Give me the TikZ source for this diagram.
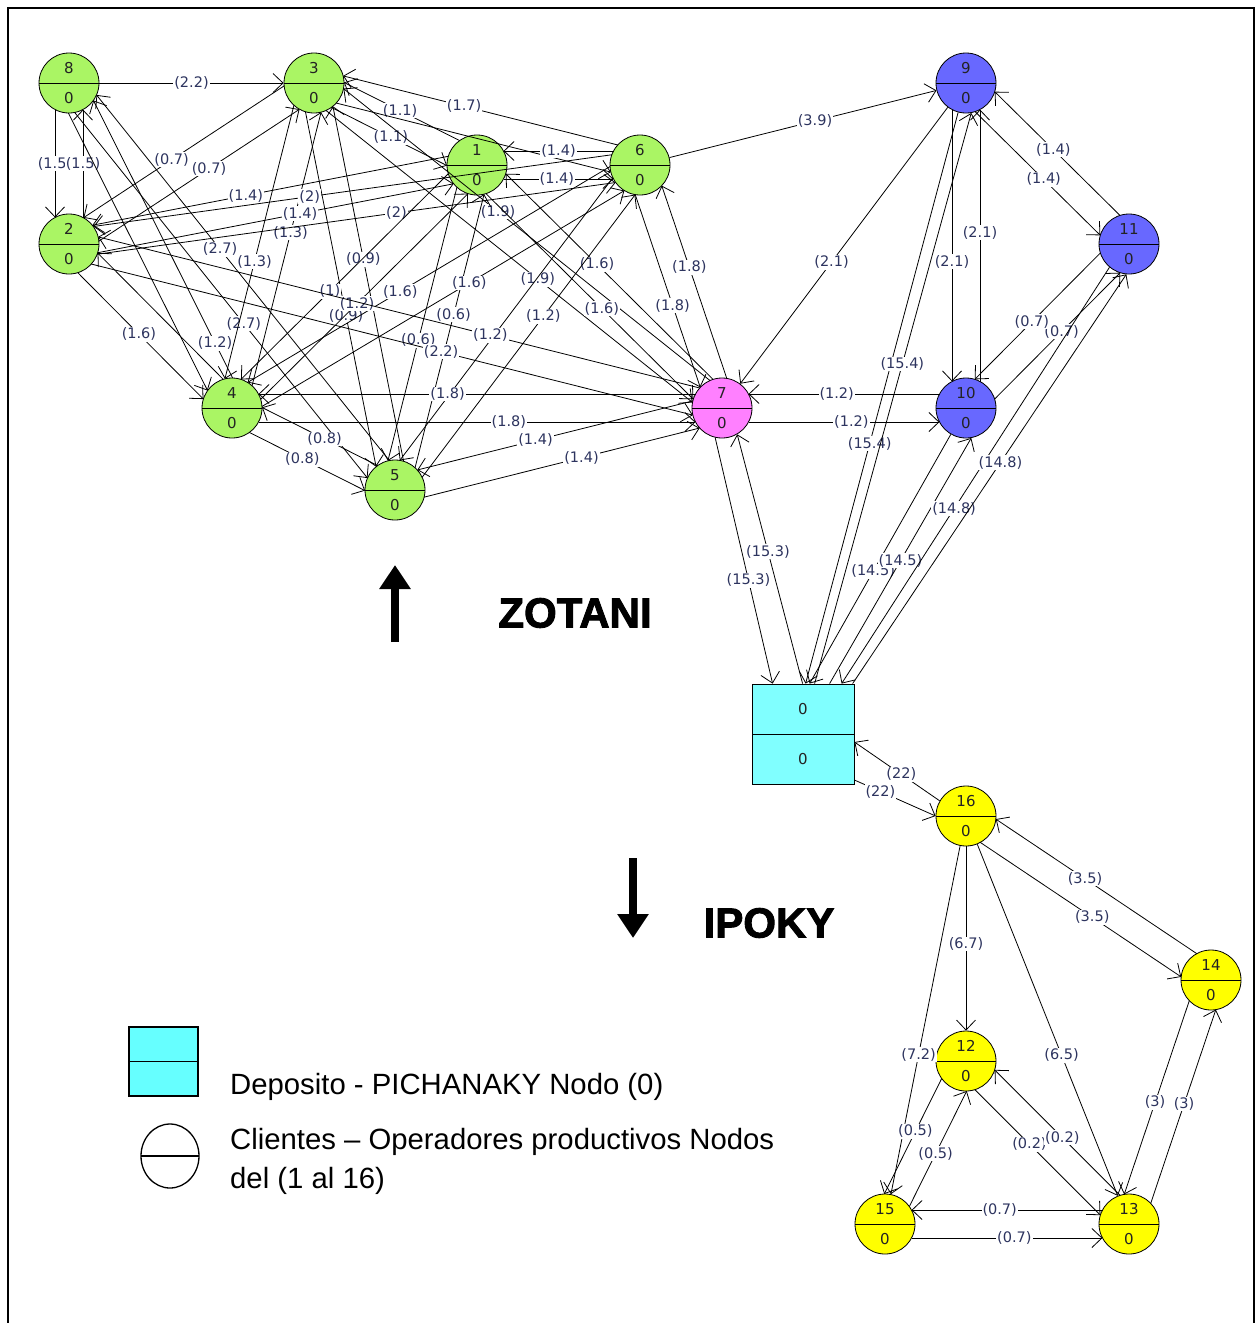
\documentclass[tikz,border=0pt]{standalone}
\usepackage{fontspec}
\setmainfont{DejaVu Sans}
\newfontfamily\legendfont{Liberation Sans}
\newfontfamily\heavyfont{Liberation Sans}[FakeBold=2.2]
\usetikzlibrary{calc,arrows.meta,shapes.geometric}

\definecolor{ngreen}{RGB}{170,245,100}
\definecolor{npink}{RGB}{255,128,255}
\definecolor{nblue}{RGB}{104,104,255}
\definecolor{nyellow}{RGB}{255,255,0}
\definecolor{depcyan}{RGB}{128,255,255}
\definecolor{legcyan}{RGB}{102,255,255}
\definecolor{lblcol}{RGB}{45,52,95}
\definecolor{numcol}{RGB}{35,35,35}

% two-way links: each direction is offset to its own right-hand side
\newcommand\linkto[4]{\draw[link] ($(#1)!14pt!-90:(#2)$) -- node[lbl,pos=#4]{#3} ($(#2)!14pt!90:(#1)$);}
\newcommand\linkbare[2]{\draw[link] ($(#1)!14pt!-90:(#2)$) -- ($(#2)!14pt!90:(#1)$);}
% one-way links, centre to centre
\newcommand\linkone[4]{\draw[linkzero] (#1) -- node[lbl,pos=#4]{#3} (#2);}

\begin{document}
\begin{tikzpicture}[x=1pt,y=-1pt,
  client/.style={circle, draw=black, line width=0.8pt, minimum size=60pt, inner sep=0pt,
    align=center, text=numcol, font=\fontsize{15}{30}\selectfont,
    path picture={\draw[line width=0.8pt] (path picture bounding box.west) -- (path picture bounding box.east);}},
  depot/.style={rectangle, draw=black, line width=0.8pt, fill=depcyan, minimum width=102pt,
    minimum height=100pt, inner sep=0pt, align=center, text=numcol, font=\fontsize{15}{50}\selectfont,
    path picture={\draw[line width=0.8pt] (path picture bounding box.west) -- (path picture bounding box.east);}},
  tip/.style={-{Straight Barb[length=10pt,width=19pt,line width=0.8pt]}},
  link/.style={draw=black, line width=0.8pt, tip, shorten <=26.5pt, shorten >=26.5pt},
  linkzero/.style={draw=black, line width=0.8pt, tip},
  lbl/.style={fill=white, inner sep=1pt, text=lblcol, font=\fontsize{14.5}{14.5}\selectfont},
  title/.style={font=\heavyfont\bfseries\fontsize{42}{42}\selectfont},
  legtext/.style={font=\legendfont\fontsize{29.3}{29.3}\selectfont, anchor=base west, inner sep=0pt},
  bigarrow/.style={line width=8pt, -{Triangle[length=24pt,width=30pt]}}
]
\useasboundingbox (0,0) rectangle (1259,1323);
% frame
\draw[line width=1.5pt] (8,1340) -- (8,8) -- (1254,8) -- (1254,1340);

% ---- nodes ----
\node[client, fill=ngreen] (n8) at (69,83) {8\\0};
\node[client, fill=ngreen] (n3) at (314,83) {3\\0};
\node[client, fill=ngreen] (n1) at (477,165) {1\\0};
\node[client, fill=ngreen] (n6) at (640,165) {6\\0};
\node[client, fill=ngreen] (n2) at (69,244) {2\\0};
\node[client, fill=ngreen] (n4) at (232,408) {4\\0};
\node[client, fill=ngreen] (n5) at (395,490) {5\\0};
\node[client, fill=npink]  (n7) at (722,408) {7\\0};
\node[client, fill=nblue]  (n9) at (966,83) {9\\0};
\node[client, fill=nblue]  (n11) at (1129,244) {11\\0};
\node[client, fill=nblue]  (n10) at (966,408) {10\\0};
\node[depot] (dep) at (803,734) {0\\0};
\node[client, fill=nyellow] (n16) at (966,816) {16\\0};
\node[client, fill=nyellow] (n14) at (1211,980) {14\\0};
\node[client, fill=nyellow] (n12) at (966,1061) {12\\0};
\node[client, fill=nyellow] (n15) at (885,1224) {15\\0};
\node[client, fill=nyellow] (n13) at (1129,1224) {13\\0};

% ---- Zotani cluster ----
\linkto{n8}{n2}{(1.5)}{0.5}
\linkto{n2}{n8}{(1.5)}{0.5}
\linkone{n8}{n3}{(2.2)}{0.5}
\linkto{n2}{n3}{(0.7)}{0.54}
\linkto{n3}{n2}{(0.7)}{0.55}
\linkto{n8}{n5}{(2.7)}{0.57}
\linkto{n5}{n8}{(2.7)}{0.57}
\linkto{n4}{n8}{(1.2)}{0.18}
\linkbare{n8}{n4}
\linkto{n2}{n4}{(1.6)}{0.49}
\linkbare{n4}{n2}
\linkto{n3}{n4}{(1.3)}{0.56}
\linkto{n4}{n3}{(1.3)}{0.55}
\linkto{n3}{n5}{(0.9)}{0.565}
\linkto{n5}{n3}{(0.9)}{0.56}
\linkto{n3}{n1}{(1.1)}{0.51}
\linkto{n1}{n3}{(1.1)}{0.51}
\linkto{n6}{n3}{(1.7)}{0.55}
\linkbare{n3}{n6}
\linkto{n1}{n6}{(1.4)}{0.49}
\linkto{n6}{n1}{(1.4)}{0.5}
\linkto{n2}{n1}{(1.4)}{0.56}
\linkto{n1}{n2}{(1.4)}{0.56}
\linkto{n2}{n6}{(2)}{0.57}
\linkto{n6}{n2}{(2)}{0.575}
\linkto{n3}{n7}{(1.9)}{0.57}
\linkto{n7}{n3}{(1.9)}{0.57}
\linkto{n1}{n7}{(1.6)}{0.55}
\linkto{n7}{n1}{(1.6)}{0.55}
\linkto{n5}{n6}{(1.2)}{0.56}
\linkbare{n6}{n5}
\linkto{n1}{n5}{(0.6)}{0.55}
\linkto{n5}{n1}{(0.6)}{0.55}
\linkto{n4}{n6}{(1.6)}{0.564}
\linkto{n6}{n4}{(1.6)}{0.57}
\linkto{n4}{n1}{(1.2)}{0.47}
\linkto{n1}{n4}{(1)}{0.56}
\linkto{n2}{n7}{(2.2)}{0.575}
\linkto{n7}{n2}{(1.2)}{0.36}
\linkto{n4}{n5}{(0.8)}{0.47}
\linkto{n5}{n4}{(0.8)}{0.47}
\linkto{n4}{n7}{(1.8)}{0.565}
\linkto{n7}{n4}{(1.8)}{0.56}
\linkto{n5}{n7}{(1.4)}{0.56}
\linkto{n7}{n5}{(1.4)}{0.56}
\linkto{n6}{n7}{(1.8)}{0.56}
\linkto{n7}{n6}{(1.8)}{0.56}

% ---- links to the right-hand group ----
\linkone{n6}{n9}{(3.9)}{0.545}
\linkone{n9}{n7}{(2.1)}{0.56}
\linkto{n9}{n10}{(2.1)}{0.55}
\linkto{n10}{n9}{(2.1)}{0.54}
\linkto{n9}{n11}{(1.4)}{0.537}
\linkto{n11}{n9}{(1.4)}{0.524}
\linkto{n10}{n11}{(0.7)}{0.526}
\linkto{n11}{n10}{(0.7)}{0.535}
\linkto{n7}{n10}{(1.2)}{0.53}
\linkto{n10}{n7}{(1.2)}{0.53}

% ---- depot links ----
\draw[linkzero] (n7.-103) -- node[lbl,pos=0.58]{(15.3)} ([xshift=21pt]dep.north west);
\draw[linkzero] ([xshift=51pt]dep.north west) -- node[lbl,pos=0.53]{(15.3)} (n7.-60);
\draw[linkzero] (n9.-105) -- node[lbl,pos=0.58]{(15.4)} ([xshift=54pt]dep.north west);
\draw[linkzero] ([xshift=63pt]dep.north west) -- node[lbl,pos=0.56]{(15.4)} (n9.-80);
\draw[linkzero] (n10.-120) -- node[lbl,pos=0.55]{(14.5)} ([xshift=58pt]dep.north west);
\draw[linkzero] ([xshift=78pt]dep.north west) -- node[lbl,pos=0.5]{(14.5)} (n10.-80);
\draw[linkzero] (n11.-130) -- node[lbl,pos=0.58]{(14.8)} ([xshift=90pt]dep.north west);
\draw[linkzero] ([xshift=101pt]dep.north west) -- node[lbl,pos=0.54]{(14.8)} (n11.-95);
\draw[linkzero] (n16.150) -- node[lbl,pos=0.45]{(22)} ([yshift=-8pt]dep.east);
\draw[linkzero] ([yshift=-46pt]dep.east) -- node[lbl,pos=0.32]{(22)} (n16.180);

% ---- Ipoky group ----
\linkone{n16}{n12}{(6.7)}{0.53}
\linkone{n16}{n15}{(7.2)}{0.6}
\linkone{n16}{n13}{(6.5)}{0.6}
\linkto{n16}{n14}{(3.5)}{0.547}
\linkto{n14}{n16}{(3.5)}{0.546}
\linkto{n14}{n13}{(3)}{0.52}
\linkto{n13}{n14}{(3)}{0.51}
\linkto{n12}{n15}{(0.5)}{0.47}
\linkto{n15}{n12}{(0.5)}{0.47}
\linkto{n12}{n13}{(0.2)}{0.45}
\linkto{n13}{n12}{(0.2)}{0.47}
\linkto{n15}{n13}{(0.7)}{0.53}
\linkto{n13}{n15}{(0.7)}{0.53}

% ---- zone titles ----
\coordinate (upfoot) at (395,642);
\coordinate (uphead) at (395,565);
\draw[bigarrow] (upfoot) -- (uphead);
\node[title] (zotani) at (575,613) {ZOTANI};
\coordinate (downfoot) at (633,858);
\coordinate (downhead) at (633,938);
\draw[bigarrow] (downfoot) -- (downhead);
\node[title] (ipoky) at (769,923) {IPOKY};

% ---- legend ----
\node[rectangle, draw=black, line width=1.3pt, fill=legcyan, minimum width=69pt, minimum height=69pt,
  path picture={\draw[line width=1.3pt] (path picture bounding box.west) -- (path picture bounding box.east);}]
  (legdep) at (163.5,1061.5) {};
\node[ellipse, draw=black, line width=1.3pt, minimum width=58pt, minimum height=64pt,
  path picture={\draw[line width=1.3pt] (path picture bounding box.west) -- (path picture bounding box.east);}]
  (legcli) at (170,1156) {};
\node[legtext] (legdeptext) at (230,1094) {Deposito - PICHANAKY Nodo (0)};
\node[legtext] (legclitext) at (230,1149) {Clientes – Operadores productivos Nodos};
\node[legtext] (legclitextb) at (230,1188) {del (1 al 16)};
\end{tikzpicture}
\end{document}
